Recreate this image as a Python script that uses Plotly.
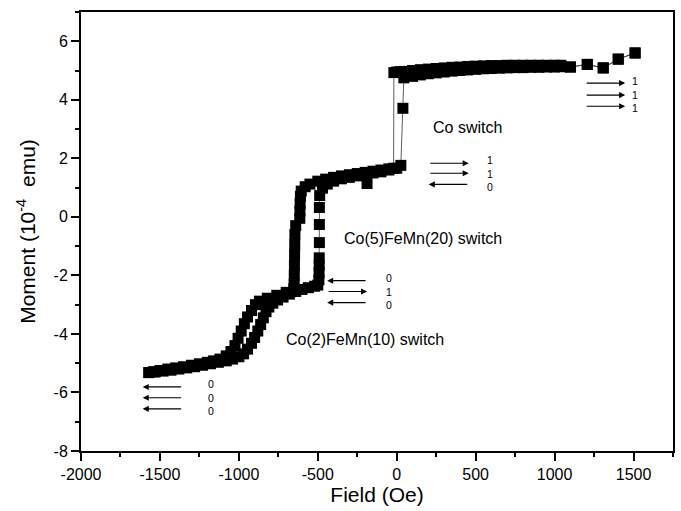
import plotly.graph_objects as go

# ---- data: hysteresis loop ----
# descending field branch (+1510 Oe -> -1570 Oe)
field_down = [1510, 1403, 1308, 1207, 1100, 1040, 1000, 950, 900, 850, 800, 750, 700, 650,
              600, 550, 500, 450, 400, 350, 300, 250, 200, 150, 100, 50, 20, 0, -18,
              -20, -50, -100, -150, -188, -200, -250, -300, -350, -400, -450, -500, -550,
              -580, -605, -610, -612, -613, -614, -640, -645, -646, -647, -648, -649, -650,
              -652, -700, -760, -820, -870, -895, -920, -945, -965, -985, -1005, -1025,
              -1050, -1080, -1120, -1160, -1200, -1250, -1300, -1350, -1400, -1450, -1500,
              -1540, -1570]
moment_down = [5.60, 5.39, 5.09, 5.21, 5.12, 5.18, 5.18, 5.18, 5.18, 5.18, 5.18, 5.18, 5.18, 5.17,
               5.17, 5.16, 5.15, 5.14, 5.12, 5.11, 5.09, 5.07, 5.05, 5.03, 5.00, 4.97, 4.96, 4.95, 4.93,
               1.66, 1.64, 1.60, 1.56, 1.14, 1.52, 1.48, 1.44, 1.40, 1.35, 1.29, 1.22, 1.12,
               1.03, 0.88, 0.70, 0.45, 0.20, -0.05, -0.30, -0.60, -0.95, -1.30, -1.65, -2.00, -2.30,
               -2.45, -2.58, -2.68, -2.78, -2.88, -3.00, -3.20, -3.42, -3.65, -3.90, -4.15, -4.40,
               -4.60, -4.75, -4.86, -4.92, -4.97, -5.02, -5.07, -5.12, -5.16, -5.20, -5.25,
               -5.29, -5.32]

# ascending field branch (-1570 Oe -> +1510 Oe)
field_up = [-1570, -1530, -1480, -1430, -1380, -1330, -1280, -1230, -1180, -1130, -1080, -1040,
            -1000, -970, -945, -920, -900, -880, -862, -845, -828, -810, -785, -755, -720,
            -680, -640, -600, -560, -520, -500, -493, -492, -491, -491, -490, -490, -490,
            -488, -470, -440, -400, -350, -300, -250, -200, -150, -100, -50, 0, 26, 39, 45,
            100, 150, 200, 250, 300, 350, 400, 450, 500, 550, 600, 650, 700, 750, 800, 850,
            900, 950, 1000, 1040, 1100, 1207, 1308, 1403, 1510]
moment_up = [-5.32, -5.30, -5.27, -5.24, -5.20, -5.16, -5.12, -5.07, -5.02, -4.97, -4.92, -4.86,
             -4.78, -4.68, -4.52, -4.32, -4.12, -3.90, -3.68, -3.45, -3.24, -3.08, -2.95, -2.84, -2.74,
             -2.64, -2.55, -2.48, -2.42, -2.37, -2.33, -2.15, -1.90, -1.65, -1.40, -0.88, -0.26, 0.32,
             0.73, 0.98, 1.12, 1.22, 1.30, 1.35, 1.40, 1.45, 1.50, 1.54, 1.60, 1.66, 1.76, 3.71, 4.75,
             4.80, 4.85, 4.89, 4.92, 4.95, 4.98, 5.00, 5.02, 5.04, 5.06, 5.07, 5.08, 5.09, 5.10, 5.10, 5.11,
             5.11, 5.12, 5.12, 5.13, 5.12, 5.21, 5.09, 5.39, 5.60]

x_tickvals = [-2000, -1500, -1000, -500, 0, 500, 1000, 1500]
x_ticktext = ["-2000", "-1500", "-1000", "-500", "0", "500", "1000", "1500"]
y_tickvals = [-8, -6, -4, -2, 0, 2, 4, 6]
y_ticktext = ["-8", "-6", "-4", "-2", "0", "2", "4", "6"]

# switch labels: text, x, y
switch_text = ["Co switch", "Co(5)FeMn(20) switch", "Co(2)FeMn(10) switch"]
switch_x = [216, -346, -712]
switch_y = [3.06, -0.74, -4.2]

# arrow groups: start x, end x, y rows, directions (1 = right, 0 = left), label x
arrow_x0 = [1194, 203, -441, -1609]
arrow_x1 = [1447, 456, -188, -1356]
arrow_rows = [[4.57, 4.16, 3.78], [1.83, 1.49, 1.11], [-2.18, -2.55, -2.93], [-5.81, -6.18, -6.56]]
arrow_bits = [[1, 1, 1], [1, 1, 0], [0, 1, 0], [0, 0, 0]]
bit_label_x = [1510, 588, -49, -1179]

FONT = "Liberation Sans, Arial, sans-serif"

fig = go.Figure()
fig.add_trace(go.Scatter(
    x=field_down + field_up, y=moment_down + moment_up,
    mode="lines+markers",
    line=dict(color="#333333", width=0.8),
    marker=dict(symbol="square", size=11, color="black", line=dict(width=0)),
    showlegend=False, hoverinfo="skip"))

annotations = []
for t, x, y in zip(switch_text, switch_x, switch_y):
    annotations.append(dict(x=x, y=y, xref="x", yref="y", text=t, showarrow=False,
                            xanchor="left", yanchor="middle",
                            font=dict(family=FONT, size=16, color="black")))

for x0, x1, rows, bits, lx in zip(arrow_x0, arrow_x1, arrow_rows, arrow_bits, bit_label_x):
    for y, b in zip(rows, bits):
        head, tail = (x1, x0) if b == 1 else (x0, x1)
        annotations.append(dict(x=head, y=y, ax=tail, ay=y, xref="x", yref="y",
                                axref="x", ayref="y", text="", showarrow=True,
                                arrowhead=2, arrowsize=1.1, arrowwidth=1.1,
                                arrowcolor="black", standoff=0, startstandoff=0))
    # the three bits of a group as one stacked label
    annotations.append(dict(x=lx, y=sum(rows) / len(rows), xref="x", yref="y",
                            text="<br>".join(str(b) for b in bits), showarrow=False,
                            xanchor="center", yanchor="middle", align="center",
                            font=dict(family=FONT, size=10.5, color="black"),
                            ))

axis_common = dict(showline=True, linewidth=2, linecolor="black", mirror=True,
                   ticks="outside", ticklen=8, tickwidth=2, tickcolor="black",
                   showgrid=False, zeroline=False,
                   tickfont=dict(family=FONT, size=16, color="black"))

fig.update_layout(
    width=681, height=511,
    margin=dict(l=81, r=6, t=12, b=60),
    paper_bgcolor="white", plot_bgcolor="white",
    annotations=annotations,
    xaxis=dict(range=[-2000, 1750], tickvals=x_tickvals, ticktext=x_ticktext,
               minor=dict(dtick=250, ticks="outside", ticklen=4, tickwidth=2, tickcolor="black"),
               title=dict(text="Field (Oe)", standoff=4,
                          font=dict(family=FONT, size=21, color="black")),
               **axis_common),
    yaxis=dict(range=[-8, 7], tickvals=y_tickvals, ticktext=y_ticktext,
               minor=dict(dtick=1, ticks="outside", ticklen=4, tickwidth=2, tickcolor="black"),
               title=dict(text="Moment (10<sup>-4</sup>  emu)", standoff=12,
                          font=dict(family=FONT, size=21, color="black")),
               **axis_common),
)

fig.write_html("out.html")
